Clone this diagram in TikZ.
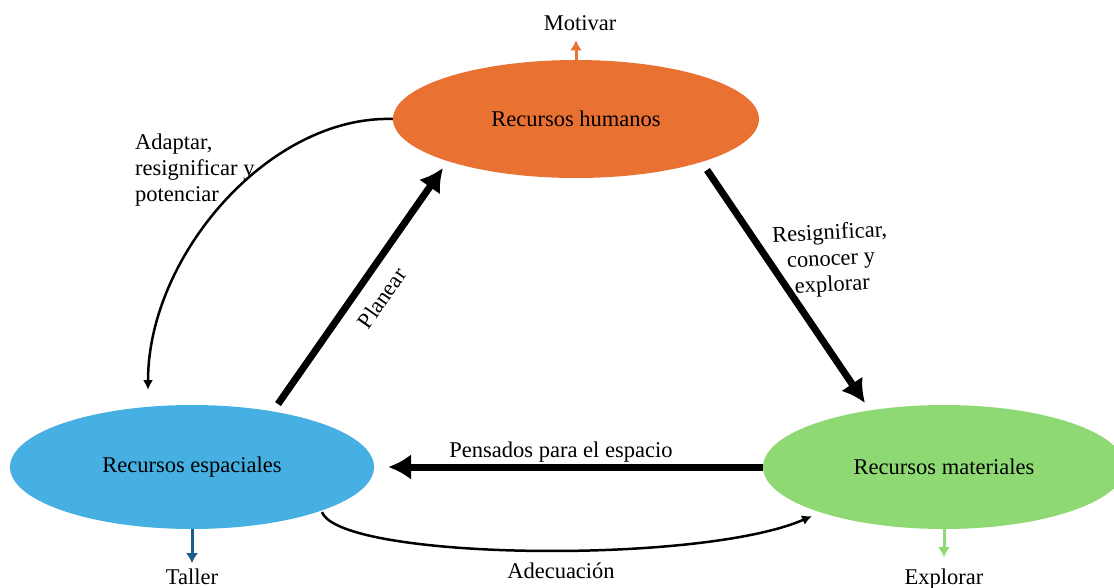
\documentclass[tikz,border=0pt]{standalone}
\usepackage{fontspec}
\setmainfont{Liberation Serif}
\usetikzlibrary{arrows.meta,shapes.geometric}
\definecolor{humanoC}{HTML}{E97132}
\definecolor{espacioC}{HTML}{45B0E1}
\definecolor{materialC}{HTML}{8ED973}
\definecolor{tallerC}{HTML}{1E5D88}
\newcommand{\figfont}{\fontsize{22.5}{26}\selectfont}
\tikzset{%
  >={Latex[width=10pt,length=10pt]},
  % Specifications for style of nodes:
        base/.style = {ellipse, inner sep=0pt, minimum width=364pt,
                       minimum height=124pt, text centered, font=\figfont},
     humanos/.style = {base, minimum width=366pt, minimum height=118pt,
                       fill=humanoC},
  espaciales/.style = {base, fill=espacioC},
  materiales/.style = {base, minimum width=362pt, fill=materialC},
         lbl/.style = {inner sep=0pt, font=\figfont},
  % Specifications for style of arrows:
       heavy/.style = {line width=7pt, -{Latex[width=26pt,length=23pt]}},
        thin/.style = {line width=2.5pt, ->},
        tick/.style = {line width=3pt, -{Latex[width=12pt,length=10pt]}},
}

\begin{document}
\begin{tikzpicture}[x=1pt, y=-1pt]
\useasboundingbox (0,0) rectangle (1114,587);

\node (RH) [humanos]    at (576,119) {Recursos humanos};
\node (RE) [espaciales] at (192,467) {Recursos espaciales};
\node (RM) [materiales] at (944,467) {Recursos materiales};

\node (Mot) [lbl, anchor=base] at (580,30)  {Motivar};
\node (Tal) [lbl, anchor=base] at (192,584) {Taller};
\node (Exp) [lbl, anchor=base] at (944,584) {Explorar};

\node (Ada) [lbl, anchor=west, align=left] at (135,170)
      {Adaptar,\\resignificar y\\potenciar};
\node (Res) [lbl, align=center, rotate=3] at (831,260)
      {Resignificar,\\conocer y\\explorar};
\node (Pla) [lbl, rotate=55]      at (382,298) {Planear};
\node (Pen) [lbl, anchor=base]    at (561,457) {Pensados para el espacio};
\node (Ade) [lbl, anchor=base]    at (561,578) {Adecuación};

\draw[heavy] ([shift={(86,-63)}]RE.center) -- ([shift={(-133,49)}]RH.center);
\draw[heavy] ([shift={(131,51)}]RH.center) -- ([shift={(-79,-64)}]RM.center);
\draw[heavy, shorten >=14pt] (RM.west) -- (RE.east);

\draw[thin] (RH.west) .. controls (270,115) and (148,255)
            .. ([shift={(-44,-77)}]RE.center);
\draw[thin] ([shift={(130,45)}]RE.center) .. controls +(18,48) and +(-112,49)
            .. ([shift={(-132,49)}]RM.center);

\draw[tick, humanoC, shorten >=10pt] (RH.north) -- (RH.north |- Mot.south);
\draw[tick, tallerC, shorten >=5pt] (RE.south) -- (RE.south |- Tal.north);
\draw[tick, materialC, shorten >=11pt] (RM.south) -- (RM.south |- Exp.north);
\end{tikzpicture}
\end{document}
